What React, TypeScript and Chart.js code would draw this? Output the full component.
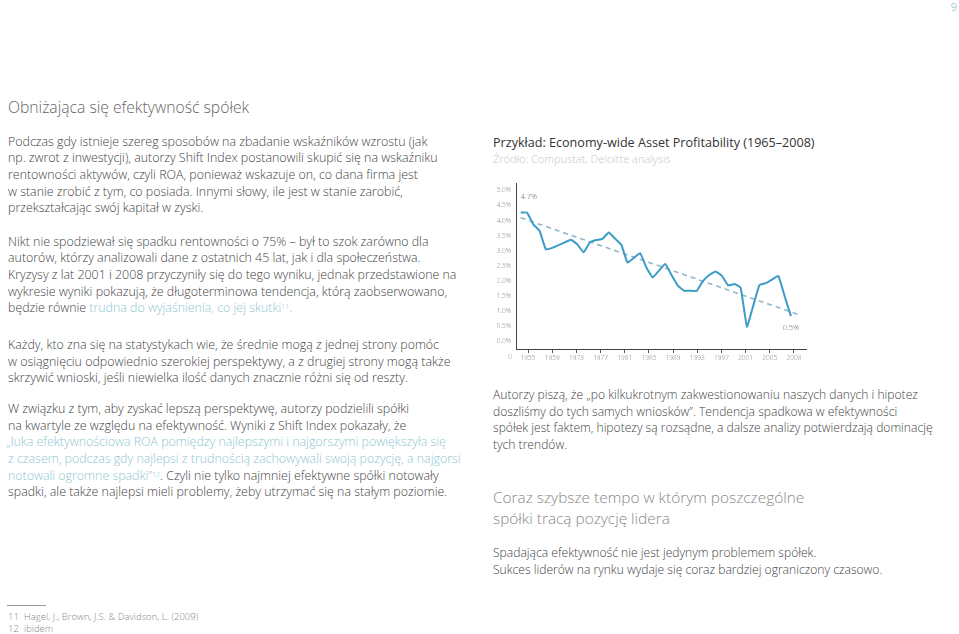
import React, { useEffect, useRef } from 'react';
import { Chart, registerables } from 'chart.js';

Chart.register(...registerables);

// ---------- DATA ----------
const years = [
  1965, 1966, 1967, 1968, 1969, 1970, 1971, 1972, 1973, 1974, 1975,
  1976, 1977, 1978, 1979, 1980, 1981, 1982, 1983, 1984, 1985, 1986,
  1987, 1988, 1989, 1990, 1991, 1992, 1993, 1994, 1995, 1996, 1997,
  1998, 1999, 2000, 2001, 2002, 2003, 2004, 2005, 2006, 2007, 2008,
];
const roaValues = [
  4.27, 4.27, 3.88, 3.67, 3.05, 3.10, 3.19, 3.28, 3.37, 3.22, 2.95,
  3.28, 3.36, 3.40, 3.61, 3.41, 3.21, 2.61, 2.77, 2.93, 2.45, 2.12,
  2.35, 2.57, 2.20, 1.85, 1.68, 1.68, 1.67, 2.00, 2.20, 2.32, 2.18,
  1.86, 1.90, 1.78, 0.49, 1.18, 1.87, 1.93, 2.05, 2.17, 1.50, 0.84,
];
const trendYears = [1965, 2009.5];
const trendValues = [4.1, 0.87];
const xTickLabels = [
  '1955', '1959', '1973', '1977', '1981', '1985', '1989', '1993', '1997', '2001', '2005', '2008',
];
const yTickValues = [0, 0.5, 1, 1.5, 2, 2.5, 3, 3.5, 4, 4.5, 5];
const startLabel = '4.7%';
const endLabel = '0.5%';
const originLabel = '0';

const FONT = '"Open Sans", "Noto Sans", sans-serif';

const annotPlugin = {
  id: 'annot',
  afterDatasetsDraw(chart: any) {
    const { ctx, chartArea } = chart;
    const meta = chart.getDatasetMeta(0);
    const first = meta.data[0];
    const last = meta.data[meta.data.length - 1];
    ctx.save();
    ctx.font = `300 7.5px ${FONT}`;
    ctx.fillStyle = '#666';
    ctx.textBaseline = 'middle';
    ctx.textAlign = 'left';
    ctx.fillText(startLabel, first.x, first.y - 16);
    ctx.textAlign = 'center';
    ctx.fillText(endLabel, last.x, last.y + 12);
    ctx.font = `300 6.5px ${FONT}`;
    ctx.fillStyle = '#888';
    ctx.fillText(originLabel, chartArea.left - 6, chartArea.bottom + 8);
    ctx.restore();
  },
};

function RoaChart() {
  const ref = useRef<HTMLCanvasElement | null>(null);
  useEffect(() => {
    if (!ref.current) return;
    const chart = new Chart(ref.current, {
      type: 'line',
      data: {
        datasets: [
          {
            data: years.map((y, i) => ({ x: y, y: roaValues[i] })),
            borderColor: '#3d9cc6',
            borderWidth: 2,
            pointRadius: 0,
            tension: 0.1,
            fill: false,
            xAxisID: 'x',
            yAxisID: 'y',
          },
          {
            data: trendYears.map((y, i) => ({ x: y, y: trendValues[i] })),
            borderColor: '#8fb8cb',
            borderWidth: 1.6,
            borderDash: [5, 4],
            pointRadius: 0,
            fill: false,
            xAxisID: 'x',
            yAxisID: 'y',
          },
        ],
      },
      options: {
        animation: false,
        responsive: false,
        maintainAspectRatio: false,
        layout: { padding: { top: 8, right: 4, left: 0, bottom: 0 } },
        plugins: { legend: { display: false }, tooltip: { enabled: false } },
        scales: {
          x: { type: 'linear', display: false, min: 1964.25, max: 2010.4 },
          xl: {
            type: 'category',
            labels: xTickLabels,
            position: 'bottom',
            offset: true,
            grid: { offset: false, drawOnChartArea: false, drawTicks: true, tickLength: 4, color: '#555' },
            border: { color: '#444', width: 1 },
            ticks: { font: { family: FONT, size: 6.5, weight: 300 }, color: '#808080', padding: 1, maxRotation: 0, autoSkip: false },
            afterFit: (s: any) => { s.height = 14; },
          },
          y: {
            type: 'linear',
            min: -0.25,
            max: 5.22,
            afterBuildTicks: (s: any) => { s.ticks = yTickValues.map((v) => ({ value: v })); },
            grid: { display: false, drawTicks: false },
            border: { color: '#444', width: 1 },
            ticks: {
              font: { family: FONT, size: 6.5, weight: 300 },
              color: '#808080',
              padding: 5,
              callback: (v: any) => Number(v).toFixed(1) + '%',
            },
            afterFit: (s: any) => { s.width = 36; },
          },
        },
      },
      plugins: [annotPlugin],
    } as any);
    return () => chart.destroy();
  }, []);
  return <canvas ref={ref} width={330} height={188} style={{ width: 330, height: 188, display: 'block' }} />;
}

const bodyStyle: React.CSSProperties = {
  position: 'absolute',
  fontFamily: FONT,
  fontWeight: 300,
  fontSize: 12.4,
  lineHeight: '16.7px',
  color: '#444',
  whiteSpace: 'nowrap',
  margin: 0,
};
const rightBody: React.CSSProperties = { ...bodyStyle, fontSize: 12.1 };
const link: React.CSSProperties = { color: '#8fc6d2' };
const sup: React.CSSProperties = { fontSize: 7, verticalAlign: 'top', position: 'relative', top: -1 };
const foot: React.CSSProperties = { ...bodyStyle, left: 8, fontSize: 9.5, lineHeight: '10px', color: '#888' };
const h2: React.CSSProperties = { ...bodyStyle, left: 493, fontSize: 15.4, lineHeight: '17px', color: '#888' };

export default function App() {
  return (
    <div style={{ position: 'absolute', left: 0, top: 0, width: 959, height: 634, background: '#fff', overflow: 'hidden' }}>
      <div style={{ position: 'absolute', right: 2, top: 0, fontFamily: FONT, fontWeight: 300, fontSize: 11, lineHeight: '14px', color: '#7ab8cf' }}>9</div>

      <div style={{ ...bodyStyle, left: 8, top: 95.5, fontSize: 15.7, lineHeight: '22px', color: '#666' }}>
        Obniżająca się efektywność spółek
      </div>

      <div style={{ ...bodyStyle, left: 8, top: 133.5 }}>
        Podczas gdy istnieje szereg sposobów na zbadanie wskaźników wzrostu (jak<br />
        np. zwrot z inwestycji), autorzy Shift Index postanowili skupić się na wskaźniku<br />
        rentowności aktywów, czyli ROA, ponieważ wskazuje on, co dana firma jest<br />
        w stanie zrobić z tym, co posiada. Innymi słowy, ile jest w stanie zarobić,<br />
        przekształcając swój kapitał w zyski.
      </div>

      <div style={{ ...bodyStyle, left: 8, top: 233.5 }}>
        Nikt nie spodziewał się spadku rentowności o 75% – był to szok zarówno dla<br />
        autorów, którzy analizowali dane z ostatnich 45 lat, jak i dla społeczeństwa.<br />
        Kryzysy z lat 2001 i 2008 przyczyniły się do tego wyniku, jednak przedstawione na<br />
        wykresie wyniki pokazują, że długoterminowa tendencja, którą zaobserwowano,<br />
        będzie równie <span style={link}>trudna do wyjaśnienia, co jej skutki<span style={sup}>11</span>.</span>
      </div>

      <div style={{ ...bodyStyle, left: 8, top: 336.8 }}>
        Każdy, kto zna się na statystykach wie, że średnie mogą z jednej strony pomóc<br />
        w osiągnięciu odpowiednio szerokiej perspektywy, a z drugiej strony mogą także<br />
        skrzywić wnioski, jeśli niewielka ilość danych znacznie różni się od reszty.
      </div>

      <div style={{ ...bodyStyle, left: 8, top: 400.8 }}>
        W związku z tym, aby zyskać lepszą perspektywę, autorzy podzielili spółki<br />
        na kwartyle ze względu na efektywność. Wyniki z Shift Index pokazały, że<br />
        <span style={{ ...link, marginLeft: -2 }}>„luka efektywnościowa ROA pomiędzy najlepszymi i najgorszymi powiększyła się</span><br />
        <span style={link}>z czasem, podczas gdy najlepsi z trudnością zachowywali swoją pozycję, a najgorsi</span><br />
        <span style={link}>notowali ogromne spadki”<span style={sup}>12</span></span>. Czyli nie tylko najmniej efektywne spółki notowały<br />
        spadki, ale także najlepsi mieli problemy, żeby utrzymać się na stałym poziomie.
      </div>

      <div style={{ position: 'absolute', left: 7, top: 605, width: 39, height: 1, background: '#999' }} />
      <div style={{ ...foot, top: 611.8 }}>
        <span style={{ display: 'inline-block', width: 16 }}>11</span>Hagel, J., Brown, J.S. &amp; Davidson, L. (2009)
      </div>
      <div style={{ ...foot, top: 623.8 }}>
        <span style={{ display: 'inline-block', width: 16 }}>12</span>ibidem
      </div>

      <div style={{ ...bodyStyle, left: 493, top: 134.5, fontSize: 12.6, fontWeight: 400, lineHeight: '16px', color: '#333' }}>
        Przykład: Economy-wide Asset Profitability (1965–2008)
      </div>
      <div style={{ ...bodyStyle, left: 493, top: 151, fontSize: 11, lineHeight: '16px', color: '#c8c8c8' }}>
        Źródło: Compustat, Deloitte analysis
      </div>

      <div style={{ position: 'absolute', left: 480, top: 175 }}>
        <RoaChart />
      </div>

      <div style={{ ...rightBody, left: 493, top: 386.9 }}>
        Autorzy piszą, że „po kilkukrotnym zakwestionowaniu naszych danych i hipotez<br />
        doszliśmy do tych samych wniosków”. Tendencja spadkowa w efektywności<br />
        spółek jest faktem, hipotezy są rozsądne, a dalsze analizy potwierdzają dominację<br />
        tych trendów.
      </div>

      <div style={{ ...h2, top: 488.7 }}>Coraz szybsze tempo w którym poszczególne</div>
      <div style={{ ...h2, top: 509.8 }}>spółki tracą pozycję lidera</div>

      <div style={{ ...rightBody, left: 493, top: 543.6, lineHeight: '17.7px' }}>
        Spadająca efektywność nie jest jedynym problemem spółek.<br />
        Sukces liderów na rynku wydaje się coraz bardziej ograniczony czasowo.
      </div>
    </div>
  );
}
